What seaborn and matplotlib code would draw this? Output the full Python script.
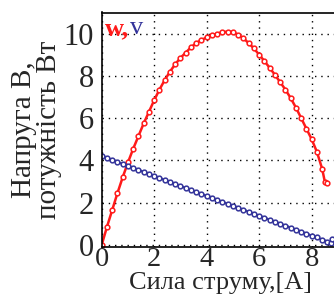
import matplotlib
matplotlib.use("Agg")
import matplotlib.pyplot as plt
import seaborn as sns
import pandas as pd

# Current (A) and power W (red)
current_w = [0.0, 0.2, 0.4, 0.6, 0.8, 1.0, 1.2, 1.4, 1.6, 1.8, 2.0, 2.2, 2.4, 2.6, 2.8,
             3.0, 3.2, 3.4, 3.6, 3.8, 4.0, 4.2, 4.4, 4.6, 4.8, 5.0, 5.2, 5.4, 5.6, 5.8,
             6.0, 6.2, 6.4, 6.6, 6.8, 7.0, 7.2, 7.4, 7.6, 7.8, 8.0, 8.2, 8.4, 8.5, 8.57]
power_w = [0.0, 0.85, 1.65, 2.45, 3.2, 3.9, 4.55, 5.15, 5.75, 6.3, 6.85, 7.35, 7.8, 8.2, 8.55,
           8.85, 9.1, 9.35, 9.55, 9.7, 9.82, 9.92, 10.0, 10.07, 10.1, 10.08, 9.95, 9.78, 9.55, 9.3,
           9.0, 8.7, 8.38, 8.05, 7.7, 7.35, 6.95, 6.5, 6.0, 5.5, 5.0, 4.4, 3.6, 3.0, 2.95]

# Current (A) and voltage V (blue)
current_v = [0.0, 0.2, 0.4, 0.6, 0.8, 1.0, 1.2, 1.4, 1.6, 1.8, 2.0, 2.2, 2.4, 2.6, 2.8,
             3.0, 3.2, 3.4, 3.6, 3.8, 4.0, 4.2, 4.4, 4.6, 4.8, 5.0, 5.2, 5.4, 5.6, 5.8,
             6.0, 6.2, 6.4, 6.6, 6.8, 7.0, 7.2, 7.4, 7.6, 7.8, 8.0, 8.2, 8.4, 8.6, 8.72, 8.78]
voltage_v = [4.2, 4.12, 4.02, 3.92, 3.83, 3.74, 3.64, 3.55, 3.45, 3.36, 3.26, 3.17, 3.07, 2.98, 2.88,
             2.79, 2.69, 2.6, 2.5, 2.41, 2.31, 2.22, 2.12, 2.03, 1.94, 1.85, 1.75, 1.66, 1.57, 1.47,
             1.38, 1.29, 1.19, 1.1, 1.0, 0.91, 0.82, 0.72, 0.63, 0.53, 0.44, 0.35, 0.25, 0.16, 0.1, 0.27]

x_ticks = [0, 2, 4, 6, 8]
y_ticks = [0, 2, 4, 6, 8, 10]

sns.set_theme(style="white")
plt.rcParams['font.family'] = ['Liberation Serif', 'DejaVu Serif']

fig = plt.figure(figsize=(3.34, 3.04), dpi=100)
ax = fig.add_axes([101.7 / 334, 1 - 247 / 304, 237 / 334, (247 - 12.5) / 304])

df_w = pd.DataFrame({"I": current_w, "P": power_w})
df_v = pd.DataFrame({"I": current_v, "U": voltage_v})

red = "#ff1a1a"
blue = "#33339a"
sns.lineplot(data=df_w, x="I", y="P", ax=ax, color=red, linewidth=1.8, marker="o",
             markersize=3.4, markerfacecolor="white", markeredgecolor=red, markeredgewidth=1.1,
             sort=False)
sns.lineplot(data=df_v, x="I", y="U", ax=ax, color=blue, linewidth=1.6, marker="o",
             markersize=3.4, markerfacecolor="white", markeredgecolor=blue, markeredgewidth=1.1,
             sort=False)

ax.set_xlim(0, 9.03)
ax.set_ylim(-0.1, 11.0)
ax.set_xticks(x_ticks)
ax.set_yticks(y_ticks)
ax.set_xticklabels([str(t) for t in x_ticks], fontsize=20.5, fontfamily="Liberation Serif")
ax.set_yticklabels([str(t) for t in y_ticks], fontsize=22, fontfamily="Liberation Serif")
ax.tick_params(axis="x", length=0, pad=0)
ax.tick_params(axis="y", length=0, pad=5.5)
ax.grid(True, color="black", linestyle=(0, (1, 3.5)), linewidth=1.0)
for s in ax.spines.values():
    s.set_color("black")
    s.set_linewidth(1.2)

ax.set_xlabel("Сила струму,[А]", fontsize=19, labelpad=0)
ax.set_ylabel("Напруга В,\nпотужність Вт", fontsize=21, labelpad=1, linespacing=0.95)

ax.text(0.015, 0.98, "w,", transform=ax.transAxes, color=red, fontsize=19,
        fontweight="bold", ha="left", va="top")
ax.text(0.118, 0.98, "v", transform=ax.transAxes, color=blue, fontsize=19,
        ha="left", va="top")

fig.savefig("out.png", dpi=100)
